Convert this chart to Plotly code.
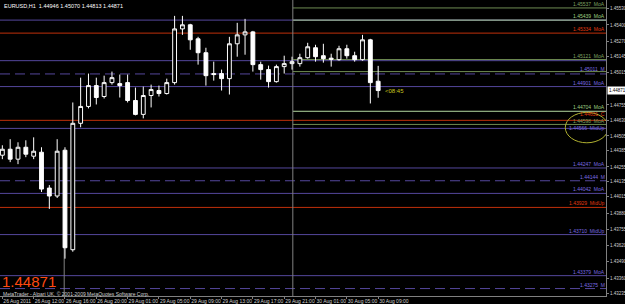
import plotly.graph_objects as go

# ---------------- data ----------------
bar_index = list(range(49))
open_ = [1.44350, 1.44398, 1.44318, 1.44414, 1.44342, 1.44374, 1.44085, 1.44021, 1.44390, 1.43588,
         1.44607, 1.44743, 1.44911, 1.44823, 1.44935, 1.44927, 1.44935, 1.44791, 1.44679, 1.44831,
         1.44871, 1.44847, 1.44935, 1.45368, 1.45401, 1.45288, 1.45176, 1.45008, 1.45008, 1.44967,
         1.45248, 1.45320, 1.45344, 1.45080, 1.45040, 1.44943, 1.45064, 1.45088, 1.45088, 1.45136,
         1.45216, 1.45152, 1.45132, 1.45120, 1.45208, 1.45152, 1.45120, 1.45280, 1.44946]
high = [1.44430, 1.44479, 1.44454, 1.44470, 1.44494, 1.44414, 1.44109, 1.44479, 1.44414, 1.44775,
        1.44975, 1.45008, 1.44975, 1.44991, 1.45024, 1.45000, 1.45000, 1.44895, 1.44903, 1.44919,
        1.44911, 1.44967, 1.45473, 1.45473, 1.45409, 1.45304, 1.45216, 1.45104, 1.45040, 1.45304,
        1.45417, 1.45449, 1.45352, 1.45104, 1.45072, 1.45080, 1.45152, 1.45144, 1.45168, 1.45256,
        1.45240, 1.45248, 1.45168, 1.45232, 1.45240, 1.45184, 1.45320, 1.45288, 1.45070]
low = [1.44318, 1.44294, 1.44278, 1.44334, 1.44318, 1.44053, 1.43917, 1.44005, 1.43516, 1.43572,
       1.44575, 1.44727, 1.44759, 1.44807, 1.44919, 1.44815, 1.44775, 1.44671, 1.44647, 1.44735,
       1.44823, 1.44839, 1.44919, 1.45320, 1.45200, 1.45080, 1.44911, 1.44951, 1.44871, 1.44839,
       1.45144, 1.45160, 1.45024, 1.44959, 1.44895, 1.44935, 1.45008, 1.45040, 1.45064, 1.45128,
       1.45104, 1.45096, 1.45064, 1.45112, 1.45128, 1.45104, 1.45112, 1.44767, 1.44813]
close = [1.44398, 1.44318, 1.44414, 1.44358, 1.44382, 1.44077, 1.44021, 1.44382, 1.43604, 1.44607,
         1.44743, 1.44911, 1.44815, 1.44935, 1.44975, 1.44911, 1.44791, 1.44679, 1.44831, 1.44879,
         1.44847, 1.44935, 1.45368, 1.45401, 1.45280, 1.45176, 1.44991, 1.45000, 1.44967, 1.45248,
         1.45320, 1.45344, 1.45080, 1.45040, 1.44943, 1.45064, 1.45088, 1.45104, 1.45136, 1.45224,
         1.45144, 1.45128, 1.45124, 1.45208, 1.45152, 1.45120, 1.45280, 1.44935, 1.44871]

date_tick_index = [0, 4, 8, 12, 16, 20, 24, 28, 32, 36, 40, 44, 48]
date_tick_labels = ["26 Aug 2011", "26 Aug 12:00", "26 Aug 16:00", "26 Aug 20:00", "29 Aug 01:00",
                    "29 Aug 05:00", "29 Aug 09:00", "29 Aug 13:00", "29 Aug 17:00", "29 Aug 21:00",
                    "30 Aug 01:00", "30 Aug 05:00", "30 Aug 09:00"]
price_ticks = [1.45530, 1.45400, 1.45270, 1.45145, 1.45015, 1.44755, 1.44630, 1.44505,
               1.44385, 1.44255, 1.44135, 1.44015, 1.43880, 1.43755, 1.43620, 1.43490, 1.43360, 1.43235]

# full-width levels
full_levels = [1.45439, 1.45334, 1.45112, 1.45005, 1.44903, 1.44631, 1.44566, 1.44247, 1.44144,
               1.44042, 1.43929, 1.43710, 1.43379, 1.43275, 1.43208]
full_kinds = ["p", "r", "p", "pd", "p", "r", "p", "p", "pd", "p", "r", "p", "p", "pd", "r"]
# levels starting at the vertical line
ray_levels = [1.45537, 1.45439, 1.45121, 1.45024, 1.44704, 1.44598]
ray_kinds = ["g", "lg", "g", "g", "lg", "g"]

label_prices = [1.45537, 1.45439, 1.45334, 1.45121, 1.45011, 1.44901, 1.44704, 1.44631, 1.44598,
                1.44566, 1.44247, 1.44144, 1.44042, 1.43929, 1.43710, 1.43379, 1.43275, 1.43208]
label_names = ["MoA", "MoA", "MoA", "MoA", "M", "MoA", "MoA", "C", "MoA", "MidUp", "MoA", "M", "MoA",
               "MidUp", "MidUp", "MoA", "M", "C"]
label_kinds = ["g", "lg", "r", "g", "p", "p", "lg", "r", "g", "p", "p", "p", "p", "r", "p", "p", "p", "r"]

vertical_bars = [7.9, 37.1]
last_price = 1.44871
title_text = "EURUSD,H1  1.44946 1.45070 1.44813 1.44871"
copyright_text = "MetaTrader - Alpari UK, © 2001-2009 MetaQuotes Software Corp."
timer_text = "<08:45"

# ---------------- style ----------------
X_RANGE = [-0.3, 77.1]
Y_RANGE = [1.43215, 1.45601]
COL = {"p": "#54479c", "pd": "#54479c", "r": "#c0300a", "g": "#6f8c52", "lg": "#b4d8a0"}
TXT = {"p": "#7a6ae0", "r": "#e03a10", "g": "#7fa060", "lg": "#9fcf80"}
FONT = "Arial, Liberation Sans, sans-serif"
label_shift = {1.44631: 2, 1.44598: -1, 1.44566: -4}

fig = go.Figure()
fig.add_trace(go.Candlestick(
    x=bar_index, open=open_, high=high, low=low, close=close,
    increasing=dict(line=dict(color="#ffffff", width=1), fillcolor="#000000"),
    decreasing=dict(line=dict(color="#ffffff", width=1), fillcolor="#ffffff"),
    whiskerwidth=0, showlegend=False, hoverinfo="skip"))

shapes = []
for p, k in zip(full_levels, full_kinds):
    shapes.append(dict(type="line", xref="paper", yref="y", x0=0, x1=1, y0=p, y1=p, layer="below",
                       line=dict(color=COL[k], width=1, dash="10px,5px" if k == "pd" else "solid")))
for p, k in zip(ray_levels, ray_kinds):
    shapes.append(dict(type="line", xref="x", yref="y", x0=vertical_bars[1], x1=X_RANGE[1], y0=p, y1=p,
                       layer="below", line=dict(color=COL[k], width=1)))
shapes.append(dict(type="line", xref="x", yref="y", x0=vertical_bars[1], x1=vertical_bars[1],
                   y0=Y_RANGE[0], y1=Y_RANGE[1], layer="below", line=dict(color="#808080", width=1)))
shapes.append(dict(type="line", xref="x", yref="y", x0=vertical_bars[0], x1=vertical_bars[0],
                   y0=Y_RANGE[0], y1=1.4400, layer="below", line=dict(color="#808080", width=1)))
shapes.append(dict(type="circle", xref="x", yref="y", x0=71.9, x1=77.4, y0=1.44450, y1=1.44695,
                   line=dict(color="#b0b030", width=1)))

annotations = []
for p, n, k in zip(label_prices, label_names, label_kinds):
    annotations.append(dict(xref="paper", yref="y", x=1, y=p, xanchor="right", yanchor="bottom",
                            yshift=label_shift.get(p, 0),
                            text=f"{p:.5f}  {n}", showarrow=False, borderpad=0,
                            font=dict(family=FONT, size=5, color=TXT[k])))
annotations.append(dict(xref="paper", yref="y", x=1, y=last_price, xanchor="left", yanchor="middle",
                        xshift=1, text=f"{last_price:.5f}", showarrow=False, bgcolor="#ffffff",
                        borderpad=1, font=dict(family=FONT, size=4.5, color="#000000")))
annotations.append(dict(xref="x", yref="y", x=bar_index[-1] + 0.6, y=last_price, xanchor="left",
                        yanchor="middle", text=timer_text, showarrow=False,
                        font=dict(family=FONT, size=6, color="#c8c820")))
annotations.append(dict(xref="paper", yref="paper", x=0.003, y=1, xanchor="left", yanchor="top",
                        yshift=-1, text=title_text, showarrow=False,
                        font=dict(family=FONT, size=5.5, color="#ffffff")))
annotations.append(dict(xref="paper", yref="paper", x=0.002, y=0, xanchor="left", yanchor="bottom",
                        yshift=5, text=f"{last_price:.5f}", showarrow=False, borderpad=0,
                        font=dict(family=FONT, size=15, color="#ff4a10")))
annotations.append(dict(xref="paper", yref="paper", x=0.004, y=0, xanchor="left", yanchor="middle",
                        yshift=2, text=copyright_text, showarrow=False, borderpad=0,
                        font=dict(family=FONT, size=5, color="#d0d0d0")))

fig.update_layout(
    width=625, height=304, margin=dict(l=0, r=19, t=0, b=8),
    paper_bgcolor="#000000", plot_bgcolor="#000000",
    shapes=shapes, annotations=annotations, showlegend=False,
    xaxis=dict(range=X_RANGE, rangeslider=dict(visible=False), showgrid=False, zeroline=False,
               tickmode="array", tickvals=date_tick_index, ticktext=date_tick_labels,
               ticks="outside", ticklen=2, tickcolor="#808080", ticklabelposition="outside right",
               tickangle=0, automargin=False,
               tickfont=dict(family=FONT, size=5, color="#d0d0d0"),
               showline=True, linecolor="#808080", linewidth=1),
    yaxis=dict(range=Y_RANGE, side="right", showgrid=False, zeroline=False, automargin=False,
               tickmode="array", tickvals=price_ticks, ticktext=[f"{v:.5f}" for v in price_ticks],
               ticks="outside", ticklen=2, tickcolor="#808080",
               tickfont=dict(family=FONT, size=4.5, color="#d0d0d0"),
               showline=True, linecolor="#808080", linewidth=1),
)

fig.write_html("out.html")
